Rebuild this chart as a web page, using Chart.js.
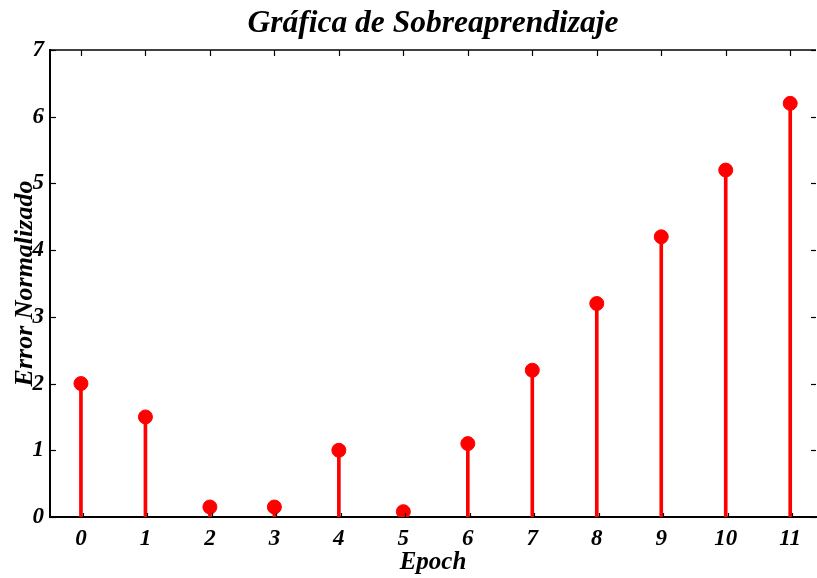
<!DOCTYPE html>
<html><head><meta charset="utf-8">
<script src="https://cdn.jsdelivr.net/npm/chart.js@4"></script>
<style>html,body{margin:0;padding:0;background:#fff}#wrap{width:817px;height:578px}</style>
</head><body><div id="wrap"><canvas id="c" width="817" height="578"></canvas></div>
<script>
const epochs = [0,1,2,3,4,5,6,7,8,9,10,11];
const errorValues = [2.0,1.5,0.15,0.15,1.0,0.08,1.1,2.2,3.2,4.2,5.2,6.2];
const xTicks = [0,1,2,3,4,5,6,7,8,9,10,11];
const yTicks = [0,1,2,3,4,5,6,7];
const titleText = 'Gráfica de Sobreaprendizaje';
const xLabel = 'Epoch';
const yLabel = 'Error Normalizado';

const FONT = '"Liberation Serif", serif';
const pts = epochs.map((e,i)=>({x:e,y:errorValues[i]}));

const frame = {
  id:'frame',
  afterDraw(chart){
    const {ctx, chartArea:a, scales:{x,y}} = chart;
    ctx.save();
    ctx.strokeStyle='#000'; ctx.lineWidth=1.5;
    ctx.beginPath(); ctx.moveTo(a.left,a.top); ctx.lineTo(a.right,a.top); ctx.stroke();
    ctx.lineWidth=1.2;
    xTicks.forEach(t=>{const px=Math.round(x.getPixelForValue(t))+0.5;
      ctx.beginPath(); ctx.moveTo(px,a.top); ctx.lineTo(px,a.top+6); ctx.stroke();
      ctx.beginPath(); ctx.moveTo(px+2,a.bottom); ctx.lineTo(px+2,a.bottom-4); ctx.stroke();});
    yTicks.forEach(t=>{const py=Math.round(y.getPixelForValue(t))+0.5;
      ctx.beginPath(); ctx.moveTo(a.left,py); ctx.lineTo(a.left+6,py); ctx.stroke();
      ctx.beginPath(); ctx.moveTo(a.right,py); ctx.lineTo(a.right-5,py); ctx.stroke();});
    ctx.restore();
  }
};

new Chart(document.getElementById('c'),{
  data:{datasets:[
    {type:'scatter',data:pts,backgroundColor:'#ff0000',borderColor:'#ff0000',pointRadius:7,pointHoverRadius:7,order:0},
    {type:'bar',data:pts,backgroundColor:'#ff0000',barThickness:3,order:1}
  ]},
  options:{
    responsive:false,animation:false,events:[],
    layout:{autoPadding:false,padding:{top:0,left:0,right:1,bottom:0}},
    plugins:{legend:{display:false},tooltip:{enabled:false},
      title:{display:true,fullSize:false,text:titleText,color:'#000',font:{family:FONT,size:31.5,style:'italic',weight:'bold',lineHeight:1.2},padding:{top:5,bottom:7.2}}},
    scales:{
      x:{type:'linear',min:-0.48,max:11.4,offset:false,
        afterBuildTicks:s=>{s.ticks=xTicks.map(v=>({value:v}));},
        afterFit:s=>{s.height=61;s.paddingLeft=0;s.paddingRight=0;},
        grid:{display:false,drawTicks:false},
        border:{display:true,color:'#000',width:2},
        ticks:{padding:8,color:'#000',font:{family:FONT,size:23,style:'italic',weight:'bold'},maxRotation:0},
        title:{display:true,text:xLabel,color:'#000',font:{family:FONT,size:25,style:'italic',weight:'bold',lineHeight:1.2},padding:{top:0,bottom:0}}},
      y:{min:0,max:7,
        afterBuildTicks:s=>{s.ticks=yTicks.map(v=>({value:v}));},
        afterFit:s=>{s.width=50;s.paddingTop=0;s.paddingBottom=0;},
        grid:{display:false,drawTicks:false},
        border:{display:true,color:'#000',width:2},
        ticks:{padding:6,color:'#000',font:{family:FONT,size:23,style:'italic',weight:'bold'}},
        title:{display:true,text:yLabel,color:'#000',font:{family:FONT,size:26,style:'italic',weight:'bold',lineHeight:1.2},padding:{top:10,bottom:0}}}
    }
  },
  plugins:[frame]
});
</script></body></html>
